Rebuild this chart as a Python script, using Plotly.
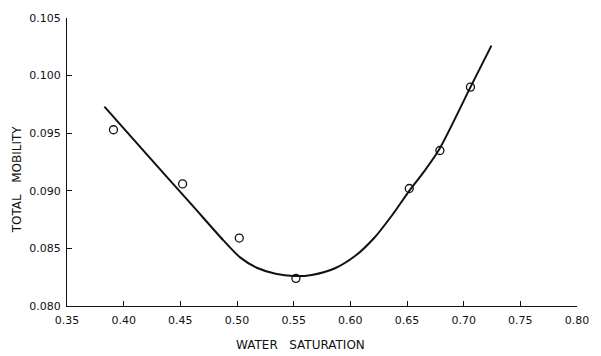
import plotly.graph_objects as go

# Measured total mobility vs water saturation
sat_points = [0.391, 0.452, 0.502, 0.552, 0.652, 0.679, 0.706]
mob_points = [0.0953, 0.0906, 0.0859, 0.0824, 0.0902, 0.0935, 0.0990]

# Smoothed fitted curve through the data
curve_sat = [0.383, 0.420, 0.460, 0.488, 0.503, 0.518, 0.534, 0.550, 0.566,
             0.587, 0.605, 0.621, 0.637, 0.652, 0.666, 0.679, 0.706, 0.7245]
curve_mob = [0.0973, 0.0932, 0.0888, 0.0857, 0.0842, 0.0833, 0.0828, 0.0826, 0.0827,
             0.0833, 0.0844, 0.0859, 0.0879, 0.0900, 0.0918, 0.0937, 0.0990, 0.1026]

x_ticks = [0.35, 0.40, 0.45, 0.50, 0.55, 0.60, 0.65, 0.70, 0.75, 0.80]
x_tick_text = ["0.35", "0.40", "0.45", "0.50", "0.55", "0.60", "0.65", "0.70", "0.75", "0.80"]
y_ticks = [0.080, 0.085, 0.090, 0.095, 0.100, 0.105]
y_tick_text = ["0.080", "0.085", "0.090", "0.095", "0.100", "0.105"]

ink = "#111111"
font = dict(family="DejaVu Sans", size=11, color=ink)

fig = go.Figure()
fig.add_trace(go.Scatter(
    x=curve_sat, y=curve_mob, mode="lines",
    line=dict(color=ink, width=2, shape="spline", smoothing=0.8),
    hoverinfo="skip", showlegend=False,
))
fig.add_trace(go.Scatter(
    x=sat_points, y=mob_points, mode="markers",
    marker=dict(symbol="circle-open", size=8, color=ink, line=dict(width=1.3, color=ink)),
    showlegend=False,
))

axis_common = dict(
    showgrid=False, zeroline=False, showline=True, linecolor=ink, linewidth=1.3,
    ticks="inside", ticklen=5, tickwidth=1, tickcolor=ink, tickfont=font,
    mirror=False,
)

fig.update_layout(
    width=601, height=356,
    margin=dict(l=67, r=14, t=15, b=50),
    paper_bgcolor="white", plot_bgcolor="white",
    font=font,
    xaxis=dict(range=[0.35, 0.80], tickvals=x_ticks, ticktext=x_tick_text,
               ticklabelstandoff=4, **axis_common),
    yaxis=dict(range=[0.080, 0.105], tickvals=y_ticks, ticktext=y_tick_text,
               ticklabelstandoff=3, **axis_common),
    annotations=[
        dict(text="WATER   SATURATION", xref="paper", yref="paper",
             x=(305 - 67) / 520, y=-(345 - 306) / 291, showarrow=False,
             xanchor="center", yanchor="middle",
             font=dict(family="DejaVu Sans", size=12, color=ink)),
        dict(text="TOTAL   MOBILITY", xref="paper", yref="paper",
             x=(16 - 67) / 520, y=(306 - 178) / 291, showarrow=False,
             textangle=-90, xanchor="center", yanchor="middle",
             font=dict(family="DejaVu Sans", size=12, color=ink)),
    ],
)

fig.write_html("out.html")
